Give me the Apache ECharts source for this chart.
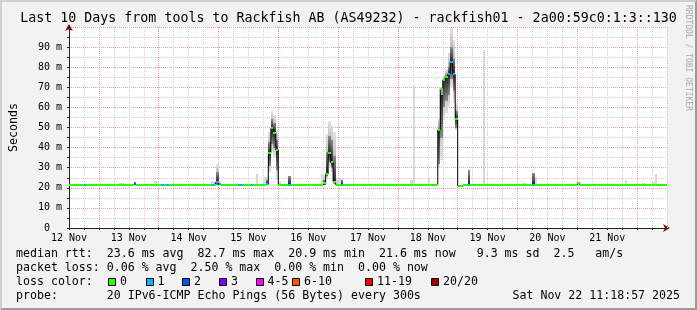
<!DOCTYPE html>
<html><head><meta charset="utf-8">
<script src="https://cdn.jsdelivr.net/npm/echarts@6/dist/echarts.min.js"></script>
<style>
html,body{margin:0;padding:0;background:#f2f2f2;}
#wrap{position:relative;width:697px;height:310px;}
#chart{width:697px;height:310px;}
#frame{position:absolute;left:0;top:0;width:697px;height:310px;box-sizing:border-box;border-top:2px solid #cfcfcf;border-left:2px solid #cfcfcf;border-bottom:2px solid #9a9a9a;border-right:2px solid #9a9a9a;pointer-events:none;}
</style></head>
<body><div id="wrap"><div id="chart"></div><div id="frame"></div></div>
<script>
// hourly samples; sample i covers hours [12+i, 13+i] after 12 Nov 00:00
const firstHour = 12;
const dayLabels = ['12 Nov','13 Nov','14 Nov','15 Nov','16 Nov','17 Nov','18 Nov','19 Nov','20 Nov','21 Nov'];
const yTickValues = [0,10,20,30,40,50,60,70,80,90];

// median rtt per hour (ms)
const median = [
21.5,21.6,21.5,21.5,21.4,21.5,21.6,21.5,21.5,21.5,21.6,21.5,21.6,21.5,21.5,21.4,21.5,21.5,21.6,21.5,
21.6,21.5,21.5,21.5,21.5,21.5,21.7,21.5,21.5,21.4,21.5,21.5,21.5,21.6,21.6,21.5,21.5,21.5,21.6,21.5,
21.6,21.5,21.5,21.4,21.5,21.5,21.5,21.5,21.6,21.5,21.5,21.5,21.5,21.5,21.5,21.6,21.5,21.6,21.5,23.0,
21.7,21.5,21.5,21.5,21.5,21.5,21.5,21.6,21.5,21.6,21.5,21.5,21.5,21.6,21.5,21.6,21.5,21.5,21.6,21.8,
37.5,49.6,47.4,38.8,21.3,21.4,21.5,21.5,21.6,21.5,21.5,21.5,21.5,21.5,21.5,21.5,21.5,21.5,21.5,21.5,
21.5,21.6,22.2,26.9,37.1,32.6,23.0,21.6,21.5,21.6,21.5,21.5,21.5,21.5,21.6,21.5,21.5,21.5,21.5,21.5,
21.5,21.5,21.6,21.5,21.5,21.5,21.5,21.5,21.5,21.6,21.5,21.5,21.5,21.5,21.5,21.5,21.5,21.6,21.5,21.5,
21.5,21.5,21.5,21.5,21.5,21.6,21.5,21.5,48.8,69.2,73.5,75.0,76.5,82.7,76.5,54.4,20.9,20.9,21.4,21.5,
21.6,21.5,21.5,21.5,21.5,21.5,21.5,21.5,21.5,21.5,21.5,21.6,21.5,21.5,21.5,21.5,21.5,21.5,21.5,21.5,
21.5,21.5,21.5,21.5,21.5,21.5,21.6,21.5,21.5,21.5,21.5,21.5,21.5,21.5,21.5,21.5,21.5,21.5,21.5,21.5,
21.5,21.5,21.5,21.5,22.5,21.5,21.5,21.5,21.5,21.5,21.5,21.5,21.5,21.5,21.5,21.5,21.5,21.5,21.5,21.5,
21.5,21.5,21.5,21.5,21.5,21.5,21.5,21.5,21.5,21.5,21.5,21.5,21.5,21.5,21.5,21.5,21.5,21.5,21.5,21.6
];
// lost pings per sample (of 20)
const loss = [
0,0,0,0,0,0,1,0,0,0,0,0,0,0,0,0,0,0,0,0,
0,0,0,0,0,0,2,0,0,0,0,0,0,0,0,0,0,1,0,1,
0,0,0,0,0,0,0,0,0,0,0,0,0,0,0,0,0,1,0,1,
1,0,0,0,0,0,0,0,1,1,0,0,0,1,0,0,0,0,0,1,
0,0,0,0,0,0,0,0,1,0,0,0,0,0,0,0,0,0,0,0,
0,0,0,0,0,0,0,0,0,1,0,0,0,0,0,0,0,0,0,0,
0,0,0,0,0,0,0,0,0,0,0,0,0,0,0,0,0,0,0,0,
0,0,0,0,0,0,0,0,0,0,0,0,1,1,1,0,0,0,0,0,
1,0,0,0,0,0,0,0,0,0,0,0,0,0,0,0,0,0,0,0,
0,0,0,0,0,0,1,0,0,0,0,0,0,0,0,0,0,0,0,0,
0,0,0,0,0,0,0,0,0,0,0,0,0,0,0,0,0,0,0,0,
0,0,0,0,0,0,0,0,0,0,0,0,0,0,0,0,0,0,0,0
];
// smoke (ping spread) for samples that show any
const smokeIdx = [12,20,21,26,34,35,57,58,59,60,67,75,78,79,80,81,82,83,84,88,101,102,103,104,105,106,107,108,109,137,138,144,148,149,150,151,152,153,154,155,160,166,182,183,186,187,223,230,234,235];
const smokeLo  = [21.5,21.5,21.5,21.5,21.5,21.5,21.5,21.5,21.5,21.5,21.5,21.5,21.5,21.5,28.0,38.0,35.5,24.0,21.5,21.5,21.5,21.5,25.0,30.5,28.0,22.0,21.5,21.5,21.5,21.5,21.5,21.5,30.0,34.0,54.0,57.0,60.0,70.0,62.0,48.8,21.5,21.5,21.5,21.5,21.5,21.5,21.5,21.5,21.5,21.5];
const smokeHi  = [22.5,22.5,22.3,22.7,23.3,23.3,23.3,23.0,31.8,23.5,22.5,26.8,25.4,25.4,48.0,58.0,56.0,48.8,23.0,25.9,27.0,26.0,47.0,53.0,51.0,48.0,25.0,25.0,25.0,24.0,71.1,25.0,54.0,70.0,76.0,79.0,87.0,99.5,93.5,62.0,29.0,88.6,22.5,22.5,27.5,25.5,24.0,22.5,22.8,26.9];
const coreLo   = [null,null,null,21.5,null,null,null,null,21.5,null,null,null,null,21.5,31.0,42.0,40.0,29.0,null,21.5,null,21.5,26.0,33.0,30.0,23.0,null,null,21.5,null,null,null,32.0,45.0,60.0,63.0,66.0,74.0,68.0,50.0,21.5,null,null,null,21.5,null,null,null,null,null];
const coreHi   = [null,null,null,22.7,null,null,null,null,28.0,null,null,null,null,24.0,43.0,54.0,52.0,44.0,null,25.9,null,24.0,38.0,46.0,44.0,36.0,null,null,24.0,null,null,null,48.8,66.0,74.0,76.0,80.0,90.0,84.0,58.0,29.0,null,null,null,27.5,null,null,null,null,null];

const lossBins   = [0,1,2,3,5,10,19,20];
const lossLabels = ['0','1','2','3','4-5','6-10','11-19','20/20'];
const lossColors = ['#26ff00','#00b8ff','#0059ff','#7e00ff','#ff00ff','#ff5500','#ff0000','#a10000'];

const titleText = 'Last 10 Days from tools to Rackfish AB (AS49232) - rackfish01 - 2a00:59c0:1:3::130';
const statLines = [
 'median rtt:  23.6 ms avg  82.7 ms max  20.9 ms min  21.6 ms now   9.3 ms sd  2.5   am/s',
 'packet loss: 0.06 % avg  2.50 % max  0.00 % min  0.00 % now',
 'loss color:',
 'probe:       20 IPv6-ICMP Echo Pings (56 Bytes) every 300s'
];
const stampText = 'Sat Nov 22 11:18:57 2025';
const creditText = 'RRDTOOL / TOBI OETIKER';

function lossColor(l){
  for (let k=0;k<lossBins.length;k++) if (l<=lossBins[k]) return lossColors[k];
  return lossColors[lossColors.length-1];
}

// [hourStart, hourEnd, lo, hi, median, hasCore]
const smokeData = smokeIdx.map((i,k)=>[firstHour+i, firstHour+i+1, smokeLo[k], smokeHi[k], median[i], coreLo[k]!==null ? 1 : 0]);
const coreData = [];
smokeIdx.forEach((i,k)=>{ if (coreLo[k]!==null) coreData.push([firstHour+i, firstHour+i+1, coreLo[k], coreHi[k], median[i], 1]); });
const medLine = median.map((m,i)=>[firstHour+i+0.5, m]);
const medRects = median.map((m,i)=>[firstHour+i, firstHour+i+1, m, loss[i]]);

function bandRender(flat, edge, mid){
  return function(params, api){
    const lo = api.value(2), hi = api.value(3), m = api.value(4), hasCore = api.value(5);
    const a = api.coord([api.value(0), lo]);
    const b = api.coord([api.value(1), hi]);
    const x0 = Math.round(a[0]), x1 = Math.round(b[0]);
    const yTop = Math.round(b[1]), yBot = Math.round(a[1]);
    let fill = flat;
    if (hasCore && hi > lo) {
      const t = Math.min(1, Math.max(0, (hi - m) / (hi - lo)));
      fill = new echarts.graphic.LinearGradient(0, 0, 0, 1, [
        {offset:0, color:edge}, {offset:t, color:mid}, {offset:1, color:(t>0.95?mid:edge)}
      ]);
    }
    return {type:'rect', shape:{x:x0, y:yTop, width:x1-x0, height:Math.max(1,yBot-yTop)}, style:{fill:fill}};
  };
}

const MONO = '"DejaVu Sans Mono", monospace';
const FS = 11.6;
const lineY = [253.5, 268, 282, 296];

const graphics = [];
statLines.forEach((t,k)=>{
  graphics.push({type:'text', x:16, y:lineY[k], style:{text:t, fontFamily:MONO, fontSize:FS, fill:'#000', verticalAlign:'middle', align:'left'}});
});
const boxX = [108, 145.5, 182, 219, 255.5, 292, 365, 431];
lossLabels.forEach((lab,k)=>{
  graphics.push({type:'rect', x:Math.round(boxX[k])+0.5, y:278.5, shape:{x:0,y:0,width:7,height:7}, style:{fill:lossColors[k], stroke:'#000', lineWidth:1}});
  graphics.push({type:'text', x:boxX[k]+12, y:lineY[2], style:{text:lab, fontFamily:MONO, fontSize:FS, fill:'#000', verticalAlign:'middle', align:'left'}});
});
graphics.push({type:'text', x:680, y:lineY[3], style:{text:stampText, fontFamily:MONO, fontSize:FS, fill:'#000', verticalAlign:'middle', align:'right'}});
graphics.push({type:'text', x:688, y:5, rotation:-Math.PI/2, style:{text:creditText, fontFamily:MONO, fontSize:8, fill:'#a8a8a8', verticalAlign:'middle', align:'left'}});

const chart = echarts.init(document.getElementById('chart'), null, {renderer:'canvas'});
const gridGrey = '#cfcfcf', gridRed = '#eea0a0';
chart.setOption({
  animation:false,
  backgroundColor:'#f2f2f2',
  title:{text:titleText, left:'center', top:12, padding:0, textStyle:{fontFamily:MONO, fontSize:13.3, fontWeight:'normal', color:'#000'}},
  grid:{left:67, top:27, width:600, height:201, show:true, backgroundColor:'#ffffff', borderWidth:0, z:0},
  xAxis:[{
    type:'value', min:firstHour, max:firstHour+240, interval:6, position:'bottom', z:1,
    axisLine:{show:true, onZero:false, lineStyle:{color:'#222', width:1}},
    axisTick:{show:true, length:2, lineStyle:{color:'#222'}},
    axisLabel:{fontFamily:MONO, fontSize:10, color:'#000', margin:5, showMaxLabel:false,
      formatter:function(h){ const d=(h-firstHour)/24; return (Number.isInteger(d) && d<dayLabels.length) ? dayLabels[d] : ''; }},
    splitLine:{show:true, lineStyle:{color:[gridGrey,gridGrey,gridRed,gridGrey], type:[1,1], width:1}}
  },{
    type:'value', min:firstHour, max:firstHour+240, interval:6, position:'bottom', offset:0, z:0,
    axisLine:{show:true, onZero:false, symbol:['none','arrow'], symbolSize:[6,7], symbolOffset:[0,3], lineStyle:{color:'#8b1010', width:1}},
    axisTick:{show:false}, axisLabel:{show:false}, splitLine:{show:false}
  }],
  yAxis:[{
    type:'value', min:0, max:100, interval:5, position:'left', z:1,
    name:'Seconds', nameLocation:'middle', nameRotate:90, nameGap:49,
    nameTextStyle:{fontFamily:MONO, fontSize:FS, color:'#000'},
    axisLine:{show:true, onZero:false, lineStyle:{color:'#222', width:1}},
    axisTick:{show:true, length:2, lineStyle:{color:'#222'}},
    axisLabel:{fontFamily:MONO, fontSize:10, color:'#000', margin:7,
      formatter:function(v){ if (v===0) return '0  '; return (yTickValues.indexOf(v)>=0) ? (v+' m') : ''; }},
    splitLine:{show:true, lineStyle:{color:[gridRed,gridGrey], type:[1,1], width:1}}
  },{
    type:'value', min:0, max:100, interval:5, position:'left', offset:0, z:0,
    axisLine:{show:true, onZero:false, symbol:['none','arrow'], symbolSize:[6,7], symbolOffset:[0,3], lineStyle:{color:'#8b1010', width:1}},
    axisTick:{show:false}, axisLabel:{show:false}, splitLine:{show:false}
  }],
  series:[
    {type:'custom', name:'smoke', xAxisIndex:0, yAxisIndex:0, silent:true, clip:true, z:2,
     encode:{x:[0,1], y:[2,3]}, data:smokeData, renderItem:bandRender('#d8d8d8', '#e2e2e2', '#9c9c9c')},
    {type:'custom', name:'smokeCore', xAxisIndex:0, yAxisIndex:0, silent:true, clip:true, z:3,
     encode:{x:[0,1], y:[2,3]}, data:coreData, renderItem:bandRender('#6a6a6a', '#8c8c8c', '#262626')},
    {type:'line', name:'medianLine', xAxisIndex:0, yAxisIndex:0, silent:true, z:4, step:'middle', symbol:'none',
     data:medLine, lineStyle:{color:'#000', width:1}},
    {type:'custom', name:'median', xAxisIndex:0, yAxisIndex:0, silent:true, clip:true, z:5,
     encode:{x:[0,1], y:2}, data:medRects,
     renderItem:function(params, api){
       const a = api.coord([api.value(0), api.value(2)]);
       const b = api.coord([api.value(1), api.value(2)]);
       const x0 = Math.round(a[0]), x1 = Math.round(b[0]);
       const y0 = Math.round(a[1]) - 1;
       return {type:'rect', shape:{x:x0, y:y0, width:x1-x0, height:2}, style:{fill:lossColor(api.value(3))}};
     }}
  ],
  graphic:graphics
});
</script>
</body></html>
